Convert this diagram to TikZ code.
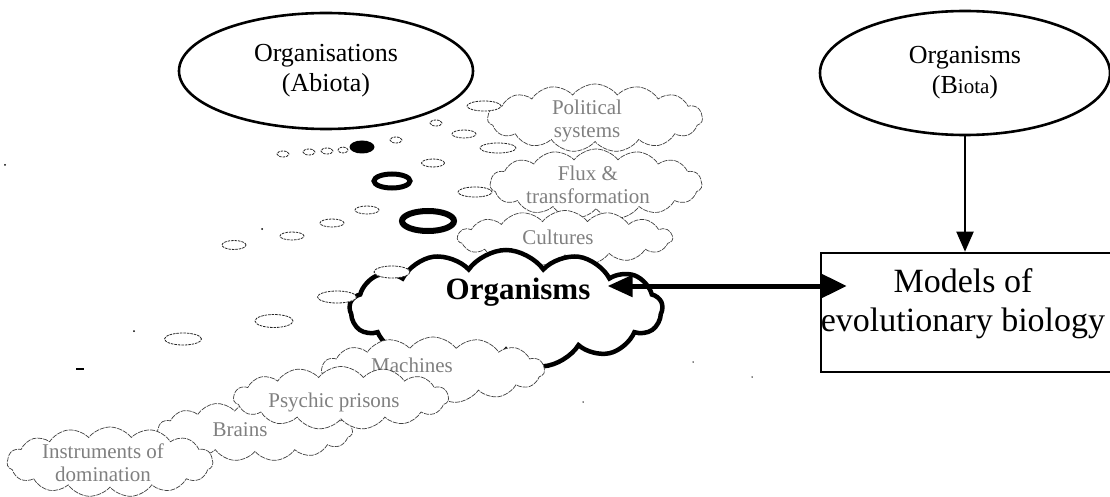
\documentclass[tikz,border=0pt]{standalone}
\usepackage{fontspec}
\setmainfont{Liberation Serif}
\usetikzlibrary{shapes.symbols,shapes.geometric,arrows.meta}
\begin{document}
\begin{tikzpicture}[x=1pt,y=-1pt,
  thincloud/.style={cloud, cloud puffs=15, cloud puff arc=105, cloud ignores aspect, draw=black!75, line width=0.7pt, dash pattern=on 5pt off 1pt, fill=white, inner sep=0pt},
  cloudtext/.style={text=black!50, font=\fontsize{21}{23}\selectfont, align=center, inner sep=0pt},
  bigell/.style={ellipse, draw=black, line width=2.6pt, inner sep=0pt, align=center, font=\fontsize{26}{30}\selectfont},
  bubble/.style={ellipse, draw=black!85, line width=0.8pt, dash pattern=on 2.5pt off 1pt, fill=white, inner sep=0pt},
  ring/.style={ellipse, draw=black, fill=white, inner sep=0pt},
  speck/.style={circle, fill=black, inner sep=0pt, minimum size=2pt}
]
\useasboundingbox (0,0) rectangle (1110,497);

% top ellipses
\node[bigell, minimum width=294pt, minimum height=116pt] (abio) at (326,71) {Organisations\\(Abiota)};
\node[bigell, minimum width=290pt, minimum height=124pt] (bio) at (965,73) {Organisms\\(B{\fontsize{21}{24}\selectfont iota})};

% model box
\node[draw=black, line width=2.6pt, minimum width=291pt, minimum height=119pt, inner sep=0pt] (box) at (966.5,312.5) {};
\node[font=\fontsize{34}{39}\selectfont, align=center, inner sep=0pt] (boxtext) at (963,304) {Models of\\evolutionary biology};

% upper chain of clouds
\node[thincloud, minimum width=215pt, minimum height=68pt] (cPol) at (595,118) {};
\node[cloudtext] (tPol) at (587,121) {Political\\systems};
\node[thincloud, minimum width=212pt, minimum height=70pt] (cFlux) at (596,184) {};
\node[cloudtext] (tFlux) at (588,185) {Flux \&\\transformation};
\node[thincloud, minimum width=215pt, minimum height=55pt] (cCul) at (565,238) {};
\node[cloudtext] (tCul) at (558,237) {Cultures};

% main cloud
\node[cloud, cloud puffs=13, cloud puff arc=110, cloud ignores aspect, draw=black, line width=4.5pt, fill=white, inner sep=0pt, minimum width=313pt, minimum height=118pt] (cOrg) at (506,309) {};
\node[font=\fontsize{31}{36}\selectfont\bfseries, inner sep=0pt] (tOrg) at (518,292) {Organisms};

% lower chain of clouds
\node[thincloud, minimum width=223pt, minimum height=66pt] (cMac) at (433,370) {};
\node[cloudtext] (tMac) at (412,365) {Machines};
\node[thincloud, minimum width=195pt, minimum height=60pt] (cBra) at (255,431) {};
\node[cloudtext] (tBra) at (240,430) {Brains};
\node[thincloud, minimum width=206pt, minimum height=70pt] (cIns) at (110,462) {};
\node[cloudtext] (tIns) at (103,463) {Instruments of\\domination};
\node[thincloud, minimum width=215pt, minimum height=63pt] (cPsy) at (341,398) {};
\node[cloudtext] (tPsy) at (334,402) {Psychic prisons};

% bubbles
\node[bubble, minimum width=12pt, minimum height=6pt] (b1) at (283,154) {};
\node[bubble, minimum width=12pt, minimum height=6pt] (b2) at (309,152) {};
\node[bubble, minimum width=12pt, minimum height=6pt] (b3) at (327,151) {};
\node[bubble, minimum width=10pt, minimum height=6pt] (b4) at (343,150) {};
\node[ellipse, fill=black, inner sep=0pt, minimum width=25pt, minimum height=13pt] (b5) at (362,147) {};
\node[bubble, minimum width=12pt, minimum height=6pt] (b6) at (396,140) {};
\node[bubble, minimum width=12pt, minimum height=6pt] (b7) at (436,123) {};
\node[bubble, minimum width=23pt, minimum height=8pt] (b8) at (433,163) {};
\node[bubble, minimum width=24pt, minimum height=8pt] (b9) at (464,134) {};
\node[bubble, minimum width=34pt, minimum height=10pt] (b10) at (484,106) {};
\node[bubble, minimum width=36pt, minimum height=10pt] (b11) at (498,148) {};
\node[bubble, minimum width=34pt, minimum height=10pt] (b12) at (475,192) {};
\node[ring, line width=5pt, minimum width=36pt, minimum height=14pt] (r1) at (392,181) {};
\node[ring, line width=6pt, minimum width=52pt, minimum height=20pt] (r2) at (428,221) {};
\node[bubble, minimum width=24pt, minimum height=8pt] (b13) at (367,210) {};
\node[bubble, minimum width=24pt, minimum height=8pt] (b14) at (332,223) {};
\node[bubble, minimum width=24pt, minimum height=8pt] (b15) at (292,236) {};
\node[bubble, minimum width=24pt, minimum height=9pt] (b16) at (234,245) {};
\node[bubble, minimum width=36pt, minimum height=12pt] (b17) at (392,272) {};
\node[bubble, minimum width=39pt, minimum height=12pt] (b18) at (337,297) {};
\node[bubble, minimum width=38pt, minimum height=13pt] (b19) at (274,321) {};
\node[bubble, minimum width=37pt, minimum height=12pt] (b20) at (183,339) {};

% specks
\node[speck] (s1) at (5,165) {};
\node[speck] (s2) at (262,229) {};
\node[speck] (s3) at (134,331) {};
\node[speck, minimum size=1.5pt] (s4) at (693,362) {};
\node[speck, minimum size=1.5pt] (s5) at (752,377) {};
\node[speck, minimum size=1.5pt] (s6) at (583,402) {};
\node[rectangle, fill=black, inner sep=0pt, minimum width=8pt, minimum height=1.5pt] (s7) at (80,369) {};

% connectors
\draw[line width=2pt, -{Triangle[length=20pt,width=17pt]}] (bio.south) -- (bio.south |- box.north);
\draw[line width=5pt, {Triangle[length=25pt,width=21pt]}-{Triangle[length=25pt,width=23pt]}, shorten <=17pt, shorten >=-27pt]
  ([yshift=6pt]tOrg.east) -- ([yshift=6pt]tOrg.east -| box.west);
\end{tikzpicture}
\end{document}
